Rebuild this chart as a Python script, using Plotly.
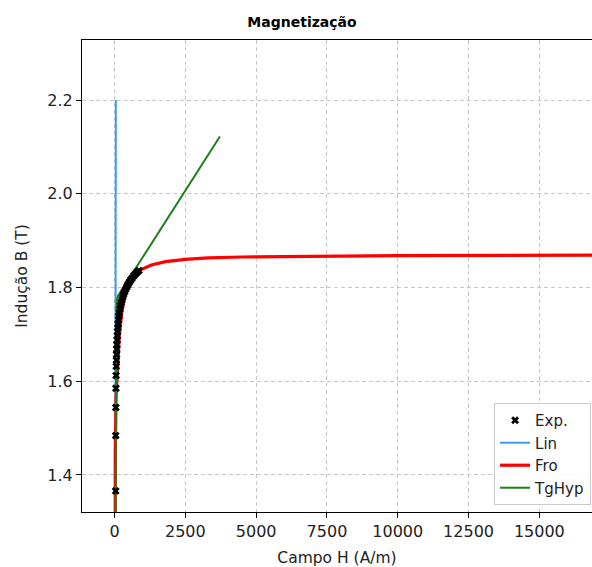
import plotly.graph_objects as go

# Experimental points (H in A/m, B in T)
exp_H = [40, 42, 45, 48, 55, 60, 65, 70, 75, 80, 88, 95, 105, 115, 125, 140, 155, 170,
         190, 210, 235, 260, 290, 320, 355, 390, 430, 470, 520, 570, 620, 680, 740, 800, 860]
exp_B = [1.366, 1.484, 1.544, 1.585, 1.612, 1.632, 1.645, 1.657, 1.668, 1.678, 1.688, 1.697,
         1.706, 1.714, 1.722, 1.731, 1.739, 1.746, 1.754, 1.761, 1.768, 1.774, 1.780, 1.786,
         1.791, 1.796, 1.801, 1.806, 1.811, 1.816, 1.820, 1.825, 1.829, 1.833, 1.836]

# Linear model
lin_H = [0, 45]
lin_B = [0.0, 2.2]

# Frohlich model
fro_H = [0, 8, 25, 55, 110, 170, 260, 400, 600, 900, 1300, 1800, 2500, 3300, 4500,
         5600, 6800, 8000, 10000, 12500, 15000, 18000]
fro_B = [0.0, 1.32, 1.45, 1.57, 1.65, 1.70, 1.75, 1.79, 1.815, 1.837, 1.848, 1.855,
         1.860, 1.863, 1.865, 1.866, 1.867, 1.867, 1.868, 1.868, 1.868, 1.869]

# Hyperbolic tangent model
tg_H = [35, 40, 45, 52, 62, 80, 110, 1000, 2000, 3000, 3720]
tg_B = [1.30, 1.45, 1.58, 1.68, 1.74, 1.772, 1.781, 1.865, 1.960, 2.055, 2.122]

x_ticks = [0, 2500, 5000, 7500, 10000, 12500, 15000]
x_tick_labels = ["0", "2500", "5000", "7500", "10000", "12500", "15000"]
y_ticks = [1.4, 1.6, 1.8, 2.0, 2.2]
y_tick_labels = ["1.4", "1.6", "1.8", "2.0", "2.2"]

FONT = "DejaVu Sans"

fig = go.Figure()
fig.add_trace(go.Scatter(x=lin_H, y=lin_B, mode="lines", name="Lin",
                         line=dict(color="#3d9df2", width=2), legendrank=2))
fig.add_trace(go.Scatter(x=fro_H, y=fro_B, mode="lines", name="Fro",
                         line=dict(color="#ff0000", width=3.2), legendrank=3))
fig.add_trace(go.Scatter(x=tg_H, y=tg_B, mode="lines", name="TgHyp",
                         line=dict(color="#1a801a", width=2), legendrank=4))
fig.add_trace(go.Scatter(x=exp_H, y=exp_B, mode="markers", name="Exp.",
                         marker=dict(symbol="x", size=7, color="black", line=dict(width=0)),
                         legendrank=1))

axis_common = dict(
    showline=True, linecolor="black", linewidth=1,
    ticks="outside", ticklen=5, tickwidth=1, tickcolor="black",
    showgrid=True, gridcolor="#c8c8c8", gridwidth=1, griddash="4px,3px",
    zeroline=False, automargin=False,
    tickfont=dict(family=FONT, size=16, color="#222222"),
)

fig.update_layout(
    width=592, height=567,
    margin=dict(l=82, r=0, t=40, b=55),
    paper_bgcolor="white", plot_bgcolor="white",
    title=dict(text="<b>Magnetização</b>", x=302 / 592, xanchor="center",
               y=1 - 22 / 567, yanchor="middle", font=dict(family=FONT, size=14, color="black")),
    xaxis=dict(range=[-1150, 16860], tickvals=x_ticks, ticktext=x_tick_labels, mirror=True,
               title=dict(text="Campo H (A/m)", font=dict(family=FONT, size=15.5, color="#222222"),
                          standoff=13),
               **axis_common),
    yaxis=dict(range=[1.321, 2.328], tickvals=y_ticks, ticktext=y_tick_labels,
               title=dict(text="Indução B (T)", font=dict(family=FONT, size=15.5, color="#222222"),
                          standoff=15),
               **axis_common),
    legend=dict(x=0.808, y=0.231, xanchor="left", yanchor="top",
                bgcolor="rgba(255,255,255,0.85)", bordercolor="#cccccc", borderwidth=1,
                font=dict(family=FONT, size=15, color="#222222"), itemwidth=30),
    showlegend=True,
)

fig.write_html("out.html", config={"displayModeBar": False},
               post_script="document.body.style.margin='0';document.body.style.overflow='hidden';")
